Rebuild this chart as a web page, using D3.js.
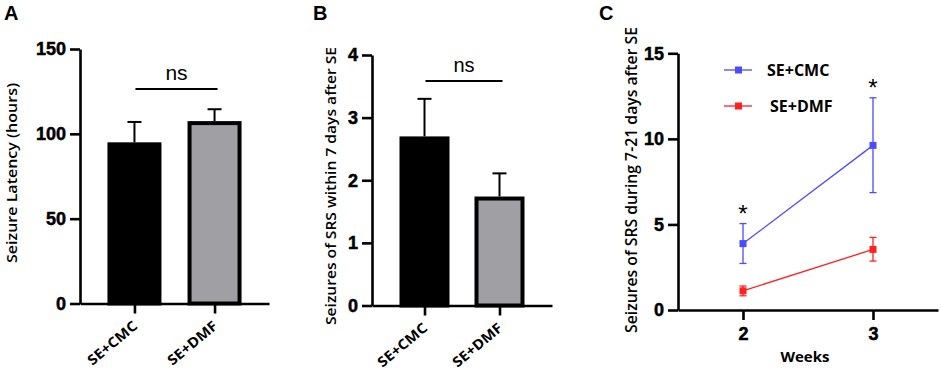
<!DOCTYPE html>
<html>
<head>
<meta charset="utf-8">
<script src="https://cdn.jsdelivr.net/npm/d3@7"></script>
<style>
  body { margin: 0; background: #fff; }
  svg { display: block; }
</style>
</head>
<body>
<svg id="fig" width="941" height="374"></svg>
<script>
// groups shared by panels A and B
var groups = ["SE+CMC", "SE+DMF"];
var barFill = ["#000000", "#a0a0a4"];

// panel A: seizure latency (hours), mean and upper error
var latencyMean = [95, 107.5];
var latencyErr = [107, 114.5];
var latencyTicks = [0, 50, 100, 150];

// panel B: seizures within 7 days
var srsMean = [2.7, 1.74];
var srsErr = [3.3, 2.11];
var srsTicks = [0, 1, 2, 3, 4];

// panel C: weeks 2 and 3
var weeks = [2, 3];
var cmcMean = [3.88, 9.62];
var cmcLow = [2.72, 6.86];
var cmcHigh = [5.05, 12.4];
var dmfMean = [1.12, 3.54];
var dmfLow = [0.83, 2.86];
var dmfHigh = [1.4, 4.24];
var weekTicksY = [0, 5, 10, 15];
var starWeeks = [2, 3];

var svg = d3.select("#fig");
var blue = "#4b4bff", red = "#ff2020";
var arial = "'Liberation Sans', Arial, sans-serif";
var sans = "'Open Sans', sans-serif";

function styleTicks(g) {
    g.select(".domain").attr("stroke-width", 2.6);
    g.selectAll(".tick line").attr("stroke-width", 2.6);
    g.selectAll(".tick text")
        .attr("font-family", arial)
        .attr("font-weight", "bold")
        .attr("font-size", 18)
        .attr("fill", "#000")
        .attr("stroke", "#000")
        .attr("stroke-width", 0.5);
}

function yAxis(g, y, ticks) {
    g.call(d3.axisLeft(y).tickValues(ticks).tickFormat(d3.format("d"))
        .tickSize(10).tickPadding(4).tickSizeOuter(0));
    styleTicks(g);
}

function yLabel(text, x, y, size, len) {
    svg.append("text")
        .attr("transform", "translate(" + x + "," + y + ") rotate(-90)")
        .attr("text-anchor", "middle")
        .attr("font-family", sans)
        .attr("font-weight", 600)
        .attr("font-size", size)
        .attr("textLength", len)
        .attr("lengthAdjust", "spacingAndGlyphs")
        .text(text);
}

function barPanel(x0, x1, y, ticks, means, errs, pad, barW, ns) {
    var x = d3.scalePoint().domain(groups).range([x0, x1]).padding(pad);
    var g = svg.append("g");

    // error bars first so the bar covers the lower part
    groups.forEach(function (d, i) {
        g.append("line")
            .attr("x1", x(d)).attr("x2", x(d))
            .attr("y1", y(means[i])).attr("y2", y(errs[i]))
            .attr("stroke", "#000").attr("stroke-width", 2);
        g.append("line")
            .attr("x1", x(d) - 7).attr("x2", x(d) + 7)
            .attr("y1", y(errs[i])).attr("y2", y(errs[i]))
            .attr("stroke", "#000").attr("stroke-width", 2);
    });

    g.selectAll("rect")
        .data(groups)
        .enter()
        .append("rect")
        .attr("x", d => x(d) - barW / 2 + 2)
        .attr("width", barW - 4)
        .attr("y", (d, i) => y(means[i]) + 2)
        .attr("height", (d, i) => y(0) - y(means[i]) - 2)
        .attr("fill", (d, i) => barFill[i])
        .attr("stroke", "#000")
        .attr("stroke-width", 4);

    var ax = g.append("g").attr("transform", "translate(" + x0 + ",0)");
    yAxis(ax, y, ticks);

    var bx = g.append("g").attr("transform", "translate(0," + y(0) + ")");
    bx.call(d3.axisBottom(x).tickSize(10).tickSizeOuter(0).tickFormat(""));
    styleTicks(bx);

    // rotated group labels, 40 degrees counter-clockwise
    var c = Math.cos(40 * Math.PI / 180), s = Math.sin(40 * Math.PI / 180);
    g.selectAll(".glab")
        .data(groups)
        .enter()
        .append("text")
        .attr("transform", d => "matrix(" + [c, -s, s, c, x(d) + 4, y(0) + 24].join(",") + ")")
        .attr("text-anchor", "end")
        .attr("font-family", sans)
        .attr("font-weight", 700)
        .attr("font-size", 14)
        .attr("textLength", 60)
        .attr("lengthAdjust", "spacingAndGlyphs")
        .text(d => d);

    // ns bracket
    g.append("line")
        .attr("x1", x(groups[0]) + 1).attr("x2", x(groups[1]) + 3)
        .attr("y1", ns.y).attr("y2", ns.y)
        .attr("stroke", "#000").attr("stroke-width", 2);
    g.append("text")
        .attr("x", (x(groups[0]) + x(groups[1])) / 2 + 2)
        .attr("y", ns.y - 9)
        .attr("text-anchor", "middle")
        .attr("font-family", arial)
        .attr("font-size", ns.size)
        .text("ns");
}

// panel A
var yA = d3.scaleLinear().domain([0, 150]).range([303.5, 49]);
barPanel(80, 269, yA, latencyTicks, latencyMean, latencyErr, 0.68, 54, {y: 89, size: 21});
yLabel("Seizure Latency (hours)", 16.5, 173, 15, 180);

// panel B
var yB = d3.scaleLinear().domain([0, 4]).range([305.5, 55]);
barPanel(372, 552, yB, srsTicks, srsMean, srsErr, 0.7, 50, {y: 81, size: 20});
yLabel("Seizures of SRS within 7 days after SE", 336, 186, 15, 278);

// panel C
var xC = d3.scaleLinear().domain([1.5, 3.5]).range([678, 938]);
var yC = d3.scaleLinear().domain([0, 15]).range([310, 53.3]);
var gC = svg.append("g");

var series = [
    {name: "SE+CMC", color: blue, mean: cmcMean, low: cmcLow, high: cmcHigh},
    {name: "SE+DMF", color: red, mean: dmfMean, low: dmfLow, high: dmfHigh}
];

var line = d3.line().x(d => xC(d[0])).y(d => yC(d[1]));

series.forEach(function (s) {
    var pts = weeks.map((w, i) => [w, s.mean[i]]);
    gC.append("path")
        .attr("d", line(pts))
        .attr("fill", "none")
        .attr("stroke", s.color)
        .attr("stroke-width", 1.3);
    weeks.forEach(function (w, i) {
        gC.append("line")
            .attr("x1", xC(w)).attr("x2", xC(w))
            .attr("y1", yC(s.low[i])).attr("y2", yC(s.high[i]))
            .attr("stroke", s.color).attr("stroke-width", 1.3);
        [s.low[i], s.high[i]].forEach(function (v) {
            gC.append("line")
                .attr("x1", xC(w) - 3.5).attr("x2", xC(w) + 3.5)
                .attr("y1", yC(v)).attr("y2", yC(v))
                .attr("stroke", s.color).attr("stroke-width", 1.3);
        });
        gC.append("rect")
            .attr("x", xC(w) - 3.5).attr("y", yC(s.mean[i]) - 3.5)
            .attr("width", 7).attr("height", 7)
            .attr("fill", s.color);
    });
});

// significance stars above CMC error bars
gC.selectAll(".star")
    .data(starWeeks)
    .enter()
    .append("text")
    .attr("x", d => xC(d))
    .attr("y", d => yC(cmcHigh[weeks.indexOf(d)]) - 2)
    .attr("text-anchor", "middle")
    .attr("font-family", arial)
    .attr("font-size", 24)
    .text("*");

var axC = gC.append("g").attr("transform", "translate(678,0)");
yAxis(axC, yC, weekTicksY);

var bxC = gC.append("g").attr("transform", "translate(0," + yC(0) + ")");
bxC.call(d3.axisBottom(xC).tickValues(weeks).tickFormat(d3.format("d"))
    .tickSize(10).tickPadding(7).tickSizeOuter(0));
styleTicks(bxC);

gC.append("text")
    .attr("x", 805).attr("y", 362)
    .attr("text-anchor", "middle")
    .attr("font-family", sans)
    .attr("font-weight", 700)
    .attr("font-size", 15)
    .text("Weeks");

yLabel("Seizures of SRS during 7-21 days after SE", 637, 180, 15.5, 306);

// legend
var leg = gC.selectAll(".leg")
    .data(series)
    .enter()
    .append("g")
    .attr("transform", (d, i) => "translate(724," + (70 + i * 36) + ")");
leg.append("line")
    .attr("x1", 0).attr("x2", 28)
    .attr("stroke", d => d.color).attr("stroke-width", 1.3);
leg.append("rect")
    .attr("x", 11).attr("y", -3.5).attr("width", 7).attr("height", 7)
    .attr("fill", d => d.color);
leg.append("text")
    .attr("x", (d, i) => 43 + i * 3).attr("y", 6)
    .attr("font-family", sans)
    .attr("font-weight", 700)
    .attr("font-size", 16)
    .text(d => d.name);

// panel letters
svg.selectAll(".letter")
    .data([["A", 4], ["B", 313], ["C", 599]])
    .enter()
    .append("text")
    .attr("x", d => d[1]).attr("y", 20)
    .attr("font-family", arial)
    .attr("font-weight", "bold")
    .attr("font-size", 20)
    .text(d => d[0]);
</script>
</body>
</html>
